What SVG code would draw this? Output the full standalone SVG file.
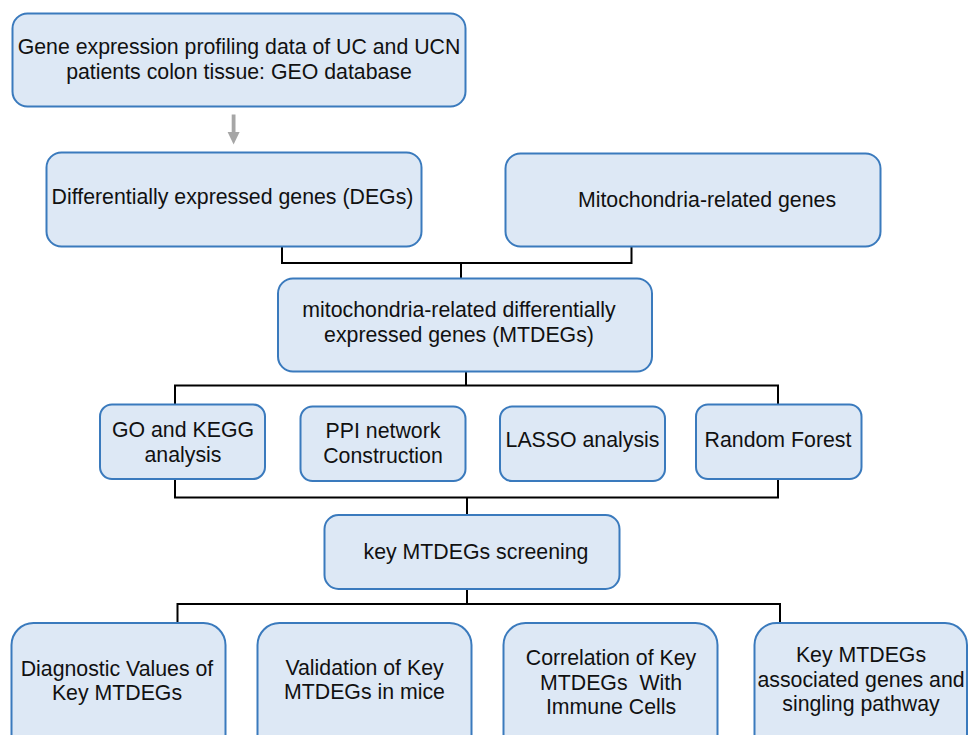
<svg xmlns="http://www.w3.org/2000/svg" width="968" height="735" viewBox="0 0 968 735">
<defs>
<style>
.box{fill:#dde8f5;stroke:#3a7abd;stroke-width:2}
.t{font-family:"Liberation Sans",Arial,sans-serif;font-size:21.3px;fill:#111;text-anchor:middle}
.c{fill:none;stroke:#000;stroke-width:2}
</style>
</defs>
<rect width="968" height="735" fill="#fff"/>
<g id="connectors">
<path class="c" d="M282,247V263H631.5V247M461,263V278"/>
<path class="c" d="M466,372V385.5M175,404V385.5H778V404"/>
<path class="c" d="M175,479V497.5H778V479M467,497.5V515"/>
<path class="c" d="M467,589V604M177.5,622V604H780V622"/>
<g id="arrow" fill="#a6a6a6">
<rect x="231.7" y="114.5" width="3.8" height="19"/>
<polygon points="227.6,132 239.6,132 233.6,144.5"/>
</g>
</g>
<g id="n1">
<rect class="box" x="12.5" y="13.5" width="453" height="93" rx="15"/>
<text class="t" x="239" y="54">Gene expression profiling data of UC and UCN</text>
<text class="t" x="239" y="79">patients colon tissue: GEO database</text>
</g>
<g id="n2">
<rect class="box" x="46.5" y="152.5" width="375" height="94" rx="15"/>
<text class="t" x="232.5" y="204">Differentially expressed genes (DEGs)</text>
</g>
<g id="n3">
<rect class="box" x="505.5" y="153.5" width="375" height="93" rx="15"/>
<text class="t" x="707" y="207">Mitochondria-related genes</text>
</g>
<g id="n4">
<rect class="box" x="278" y="278.5" width="374" height="93" rx="15"/>
<text class="t" x="459" y="317">mitochondria-related differentially</text>
<text class="t" x="459" y="342">expressed genes (MTDEGs)</text>
</g>
<g id="n5">
<rect class="box" x="100" y="404.5" width="165" height="74.5" rx="12"/>
<text class="t" x="183" y="437">GO and KEGG</text>
<text class="t" x="183" y="462">analysis</text>
</g>
<g id="n6">
<rect class="box" x="300.5" y="406.5" width="165" height="74.5" rx="12"/>
<text class="t" x="383" y="438">PPI network</text>
<text class="t" x="383" y="463">Construction</text>
</g>
<g id="n7">
<rect class="box" x="500" y="406.5" width="165" height="74.5" rx="12"/>
<text class="t" x="582.5" y="447">LASSO analysis</text>
</g>
<g id="n8">
<rect class="box" x="696" y="404.5" width="165.5" height="74.5" rx="12"/>
<text class="t" x="778" y="447">Random Forest</text>
</g>
<g id="n9">
<rect class="box" x="324.5" y="515" width="295" height="74" rx="14"/>
<text class="t" x="476" y="559">key MTDEGs screening</text>
</g>
<g id="n10">
<rect class="box" x="11.5" y="623" width="214" height="140" rx="22"/>
<text class="t" x="117" y="676">Diagnostic Values of</text>
<text class="t" x="117" y="700">Key MTDEGs</text>
</g>
<g id="n11">
<rect class="box" x="257.5" y="623" width="214" height="140" rx="22"/>
<text class="t" x="364.5" y="675">Validation of Key</text>
<text class="t" x="364.5" y="699">MTDEGs in mice</text>
</g>
<g id="n12">
<rect class="box" x="503.5" y="623" width="214" height="140" rx="22"/>
<text class="t" x="611" y="665">Correlation of Key</text>
<text class="t" x="611" y="690" xml:space="preserve">MTDEGs  With</text>
<text class="t" x="611" y="714">Immune Cells</text>
</g>
<g id="n13">
<rect class="box" x="754.5" y="623" width="212.5" height="140" rx="22"/>
<text class="t" x="861" y="662">Key MTDEGs</text>
<text class="t" x="861" y="687">associated genes and</text>
<text class="t" x="861" y="711">singling pathway</text>
</g>
</svg>
